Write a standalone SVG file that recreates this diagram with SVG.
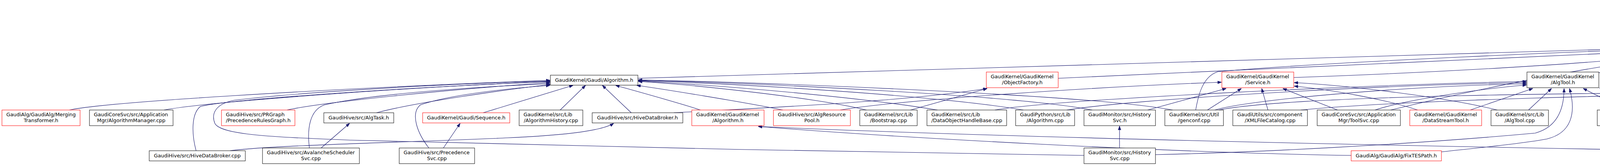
<svg xmlns="http://www.w3.org/2000/svg" width="6723" height="424" viewBox="0 0 6723 424">
<defs>
<marker id="ah" markerWidth="10" markerHeight="8" refX="10" refY="4" orient="auto" markerUnits="userSpaceOnUse"><path d="M0,0.5 L10,4 L0,7.5 z" fill="#191970" stroke="#191970" stroke-width="1"/></marker>
</defs>
<style>
.n rect{fill:#fff;stroke:#000;stroke-width:1}
.r rect{stroke:#f00}
.g rect{fill:#bfbfbf}
text{font-family:"DejaVu Sans",sans-serif;font-size:12.9px;fill:#000}
.c{text-anchor:middle}
.e path{fill:none;stroke:#191970;stroke-width:1.1;marker-end:url(#ah)}
</style>
<rect width="6723" height="424" fill="#fff"/>
<g id="edges" class="e">
<path d="M4486,95 L4517,47"/>
<path d="M5616,185 C5400,150 4900,85 4626,40"/>
<path d="M1633,200 L4387,118"/>
<path d="M3061,281 C3068,240 3080,195 3118,183 C3400,158 4100,128 4387,121"/>
<path d="M2709,200 L4387,124"/>
<path d="M3312,198 C3600,188 4100,165 4387,128"/>
<path d="M3560,281 C3750,235 4100,160 4387,131"/>
<path d="M4093,186 C4200,165 4300,145 4387,134"/>
<path d="M4267,192 L4410,136"/>
<path d="M4472,184 L4472,136"/>
<path d="M4636,184 L4531,136"/>
<path d="M4800,184 C4720,165 4620,145 4557,134"/>
<path d="M5020,184 C4900,160 4700,135 4557,128"/>
<path d="M5192,185 C5100,168 4800,135 4557,124"/>
<path d="M5408,185 C5300,162 4900,127 4557,121"/>
<path d="M5616,187 C5500,160 5000,126 4557,117"/>
<path d="M178,281 C260,262 800,228 1408,205"/>
<path d="M420,281 C520,262 1000,225 1408,208"/>
<path d="M735,281 C820,262 1150,228 1408,211"/>
<path d="M792,378 C786,330 792,282 830,268 C960,238 1250,220 1408,214"/>
<path d="M822,378 L895,315"/>
<path d="M964,288 C1060,262 1300,228 1408,216"/>
<path d="M1098,378 C1068,340 1050,290 1076,268 C1150,242 1300,226 1408,218"/>
<path d="M1135,378 L1178,315"/>
<path d="M502,385 C490,340 490,290 513,272 C600,250 1200,215 1408,209"/>
<path d="M589,385 C700,370 1100,362 1300,352 C1460,345 1545,332 1571,315"/>
<path d="M2775,397 C2300,390 1300,372 900,358 C700,350 565,345 550,315 C540,290 552,265 600,256 C800,232 1200,212 1408,207"/>
<path d="M1237,288 L1467,218"/>
<path d="M1434,281 L1499,218"/>
<path d="M1616,288 L1542,218"/>
<path d="M1793,281 C1750,266 1625,232 1576,218"/>
<path d="M2004,281 C1900,260 1700,228 1630,218"/>
<path d="M2218,281 C2100,252 1800,218 1634,208"/>
<path d="M2400,281 C2200,248 1850,218 1634,207"/>
<path d="M2620,281 C2400,244 1900,214 1634,206"/>
<path d="M2796,281 C2600,243 1950,213 1634,205"/>
<path d="M3002,281 C2800,243 2000,212 1634,204"/>
<path d="M2331,281 L2527,226"/>
<path d="M1725,288 C1900,278 2300,262 2527,226"/>
<path d="M2151,281 C2300,256 2800,222 3127,210"/>
<path d="M2938,281 L3139,226"/>
<path d="M3091,281 L3178,226"/>
<path d="M3246,281 L3230,226"/>
<path d="M3424,281 C3380,264 3320,240 3284,226"/>
<path d="M3629,281 C3550,254 3400,228 3313,220"/>
<path d="M3833,281 C3700,248 3450,218 3313,211"/>
<path d="M2547,281 C2700,254 3500,216 3908,208"/>
<path d="M2731,281 C2900,254 3500,218 3908,211"/>
<path d="M3110,281 C3200,254 3600,220 3908,214"/>
<path d="M3520,281 C3600,254 3800,226 3908,217"/>
<path d="M3764,281 L3924,226"/>
<path d="M3913,281 L3972,226"/>
<path d="M2958,395 C3200,390 3600,370 3930,340 C3985,325 4004,280 4004,226"/>
<path d="M3690,388 C3800,376 3900,366 3960,355 C4022,340 4036,290 4018,226"/>
<path d="M4162,281 L4053,226"/>
<path d="M4349,276 L4096,225"/>
<path d="M4600,281 C4500,254 4300,234 4095,225"/>
<path d="M4811,281 C4650,250 4300,231 4095,225"/>
<path d="M4989,281 C4800,246 4350,229 4095,225"/>
<path d="M5244,288 C5000,250 4400,229 4095,225"/>
<path d="M5338,385 C5400,360 5440,310 5411,272 C5350,240 4500,228 4095,225"/>
<path d="M5493,281 C5300,250 4600,226 4314,218"/>
<path d="M5669,281 C5500,248 4700,226 4314,218"/>
<path d="M5882,288 C5800,264 5680,240 5593,225"/>
<path d="M6149,288 C6000,258 5750,238 5593,225"/>
<path d="M6361,281 C6200,254 5800,238 5593,225"/>
<path d="M6555,281 C6300,240 5800,236 5593,225"/>
<path d="M3120,281 C3300,245 4000,236 4800,234 C5100,233 5300,230 5400,225"/>
<path d="M3330,281 C3700,245 4700,235 5010,225"/>
<path d="M3459,397 C3000,390 2300,352 1941,323"/>
<path d="M5164,397 C4500,390 2800,362 1941,323"/>
<path d="M2866,378 L2866,322"/>
<path d="M5292,385 L5292,315"/>
</g>
<g id="n_root" class="n g"><rect x="4439" y="5" width="186" height="41"/><text x="4450.2" y="21.5">GaudiPluginService</text><text x="4532" y="36.5" class="c">/Gaudi/PluginServiceV1.h</text></g>
<g id="n_ps" class="n"><rect x="4388" y="95" width="168" height="40"/><text x="4399.2" y="111.3">GaudiPluginService</text><text x="4472" y="126" class="c">/Gaudi/PluginService.h</text></g>
<g id="n_alg" class="n"><rect x="1409" y="192" width="224" height="25.5"/><text x="1521" y="208.5" class="c">GaudiKernel/Gaudi/Algorithm.h</text></g>
<g id="n_objf" class="n r"><rect x="2525" y="184" width="184" height="40"/><text x="2536.2" y="200.3">GaudiKernel/GaudiKernel</text><text x="2617" y="215" class="c">/ObjectFactory.h</text></g>
<g id="n_svc" class="n r"><rect x="3128" y="184" width="184" height="40"/><text x="3139.2" y="200.3">GaudiKernel/GaudiKernel</text><text x="3220" y="215" class="c">/Service.h</text></g>
<g id="n_algtool" class="n"><rect x="3909" y="184" width="184" height="40"/><text x="3920.2" y="200.3">GaudiKernel/GaudiKernel</text><text x="4001" y="215" class="c">/AlgTool.h</text></g>
<g id="n_apph" class="n"><rect x="4117" y="192" width="232" height="25.5"/><text x="4233" y="208.5" class="c">GaudiKernel/Gaudi/Application.h</text></g>
<g id="n_capi" class="n"><rect x="4373" y="184" width="198" height="40"/><text x="4384.2" y="200.3">GaudiPluginService</text><text x="4472" y="215" class="c">/src/capi_pluginservice.cpp</text></g>
<g id="n_v1cpp" class="n"><rect x="4595" y="184" width="181" height="40"/><text x="4606.2" y="200.3">GaudiPluginService</text><text x="4685.5" y="215" class="c">/src/PluginServiceV1.cpp</text></g>
<g id="n_v2cpp" class="n"><rect x="4800" y="184" width="181" height="40"/><text x="4811.2" y="200.3">GaudiPluginService</text><text x="4890.5" y="215" class="c">/src/PluginServiceV2.cpp</text></g>
<g id="n_ifc" class="n r"><rect x="5005" y="184" width="163" height="40"/><text x="5016.2" y="200.3">GaudiUtils/GaudiUtils</text><text x="5086.5" y="215" class="c">/IFileCatalog.h</text></g>
<g id="n_mfc" class="n"><rect x="5192" y="184" width="191" height="40"/><text x="5203.2" y="200.3">GaudiUtils/src/component</text><text x="5287.5" y="215" class="c">/MultiFileCatalog.cpp</text></g>
<g id="n_aud" class="n r"><rect x="5408" y="184" width="184" height="40"/><text x="5419.2" y="200.3">GaudiKernel/GaudiKernel</text><text x="5500" y="215" class="c">/Auditor.h</text></g>
<g id="n_listc" class="n"><rect x="5616" y="184" width="176" height="40"/><text x="5627.2" y="200.3">GaudiPluginService</text><text x="5704" y="215" class="c">/src/listcomponents.cpp</text></g>
<g id="n_merge" class="n r"><rect x="5" y="281" width="200" height="40"/><text x="16.2" y="297.3">GaudiAlg/GaudiAlg/Merging</text><text x="105" y="312" class="c">Transformer.h</text></g>
<g id="n_algmgr" class="n"><rect x="229" y="281" width="214" height="40"/><text x="240.2" y="297.3">GaudiCoreSvc/src/Application</text><text x="336" y="312" class="c">Mgr/AlgorithmManager.cpp</text></g>
<g id="n_prg" class="n r"><rect x="567" y="281" width="188" height="40"/><text x="578.2" y="297.3">GaudiHive/src/PRGraph</text><text x="661" y="312" class="c">/PrecedenceRulesGraph.h</text></g>
<g id="n_algtask" class="n"><rect x="829" y="288" width="179" height="26"/><text x="918.5" y="304.5" class="c">GaudiHive/src/AlgTask.h</text></g>
<g id="n_seq" class="n r"><rect x="1082" y="288" width="223" height="26"/><text x="1193.5" y="304.5" class="c">GaudiKernel/Gaudi/Sequence.h</text></g>
<g id="n_alghist" class="n"><rect x="1329" y="281" width="163" height="40"/><text x="1340.2" y="297.3">GaudiKernel/src/Lib</text><text x="1410.5" y="312" class="c">/AlgorithmHistory.cpp</text></g>
<g id="n_hdbh" class="n"><rect x="1516" y="288" width="232" height="26"/><text x="1632" y="304.5" class="c">GaudiHive/src/HiveDataBroker.h</text></g>
<g id="n_gkalg" class="n r"><rect x="1771" y="281" width="185" height="40"/><text x="1782.2" y="297.3">GaudiKernel/GaudiKernel</text><text x="1863.5" y="312" class="c">/Algorithm.h</text></g>
<g id="n_arp" class="n r"><rect x="1980" y="281" width="197" height="40"/><text x="1991.2" y="297.3">GaudiHive/src/AlgResource</text><text x="2078.5" y="312" class="c">Pool.h</text></g>
<g id="n_boot" class="n"><rect x="2201" y="281" width="147" height="40"/><text x="2212.2" y="297.3">GaudiKernel/src/Lib</text><text x="2274.5" y="312" class="c">/Bootstrap.cpp</text></g>
<g id="n_dohb" class="n"><rect x="2373" y="281" width="204" height="40"/><text x="2384.2" y="297.3">GaudiKernel/src/Lib</text><text x="2475" y="312" class="c">/DataObjectHandleBase.cpp</text></g>
<g id="n_pyalg" class="n"><rect x="2600" y="281" width="151" height="40"/><text x="2611.2" y="297.3">GaudiPython/src/Lib</text><text x="2675.5" y="312" class="c">/Algorithm.cpp</text></g>
<g id="n_histh" class="n"><rect x="2775" y="281" width="183" height="40"/><text x="2786.2" y="297.3">GaudiMonitor/src/History</text><text x="2866.5" y="312" class="c">Svc.h</text></g>
<g id="n_genconf" class="n"><rect x="2982" y="281" width="150" height="40"/><text x="2993.2" y="297.3">GaudiKernel/src/Util</text><text x="3057" y="312" class="c">/genconf.cpp</text></g>
<g id="n_xmlfc" class="n"><rect x="3156" y="281" width="191" height="40"/><text x="3167.2" y="297.3">GaudiUtils/src/component</text><text x="3251.5" y="312" class="c">/XMLFileCatalog.cpp</text></g>
<g id="n_toolsvc" class="n"><rect x="3372" y="281" width="213" height="40"/><text x="3383.2" y="297.3">GaudiCoreSvc/src/Application</text><text x="3478.5" y="312" class="c">Mgr/ToolSvc.cpp</text></g>
<g id="n_dst" class="n r"><rect x="3609" y="281" width="184" height="40"/><text x="3620.2" y="297.3">GaudiKernel/GaudiKernel</text><text x="3701" y="312" class="c">/DataStreamTool.h</text></g>
<g id="n_algtoolcpp" class="n"><rect x="3817" y="281" width="147" height="40"/><text x="3828.2" y="297.3">GaudiKernel/src/Lib</text><text x="3890.5" y="312" class="c">/AlgTool.cpp</text></g>
<g id="n_pst" class="n"><rect x="4089" y="281" width="235" height="40"/><text x="4100.2" y="297.3">GaudiCommonSvc/src</text><text x="4206.5" y="312" class="c">/DataSvc/PartitionSwitchTool.cpp</text></g>
<g id="n_dsfet" class="n"><rect x="4348" y="274" width="205" height="54"/><text x="4359.2" y="290">GaudiCommonSvc/src</text><text x="4359.2" y="304.5">/PersistencySvc/DataSvcFile</text><text x="4450.5" y="319" class="c">EntriesTool.cpp</text></g>
<g id="n_dod" class="n r"><rect x="4577" y="281" width="192" height="40"/><text x="4588.2" y="297.3">GaudiCoreSvc/src/Incident</text><text x="4673" y="312" class="c">Svc/DODBasicMapper.h</text></g>
<g id="n_ath" class="n"><rect x="4793" y="281" width="147" height="40"/><text x="4804.2" y="297.3">GaudiKernel/src/Lib</text><text x="4866.5" y="312" class="c">/AlgToolHistory.cpp</text></g>
<g id="n_frt" class="n r"><rect x="4964" y="281" width="191" height="40"/><text x="4975.2" y="297.3">GaudiUtils/src/component</text><text x="5059.5" y="312" class="c">/FileReadTool.h</text></g>
<g id="n_gtool" class="n r"><rect x="5180" y="288" width="224" height="26"/><text x="5292" y="304.5" class="c">GaudiAlg/GaudiAlg/GaudiTool.h</text></g>
<g id="n_gmain" class="n"><rect x="5479" y="281" width="147" height="40"/><text x="5490.2" y="297.3">GaudiKernel/src/Lib</text><text x="5552.5" y="312" class="c">/GaudiMain.cpp</text></g>
<g id="n_appcpp" class="n"><rect x="5649" y="281" width="147" height="40"/><text x="5660.2" y="297.3">GaudiKernel/src/Lib</text><text x="5722.5" y="312" class="c">/Application.cpp</text></g>
<g id="n_aca" class="n r"><rect x="5819" y="288" width="244" height="26"/><text x="5941" y="304.5" class="c">GaudiAud/src/AlgContextAuditor.h</text></g>
<g id="n_ca" class="n r"><rect x="6086" y="288" width="230" height="26"/><text x="6201" y="304.5" class="c">GaudiAud/src/CommonAuditor.h</text></g>
<g id="n_audsvc" class="n"><rect x="6340" y="281" width="165" height="40"/><text x="6351.2" y="297.3">GaudiCommonSvc/src</text><text x="6422.5" y="312" class="c">/AuditorSvc.cpp</text></g>
<g id="n_timing" class="n"><rect x="6530" y="281" width="189" height="40"/><text x="6541.2" y="297.3">GaudiAlg/src/components</text><text x="6624.5" y="312" class="c">/TimingAuditor.cpp</text></g>
<g id="n_hdbcpp" class="n"><rect x="382" y="385" width="246" height="26"/><text x="505" y="401.5" class="c">GaudiHive/src/HiveDataBroker.cpp</text></g>
<g id="n_avs" class="n"><rect x="672" y="378" width="248" height="40"/><text x="683.2" y="394.3">GaudiHive/src/AvalancheScheduler</text><text x="796" y="409" class="c">Svc.cpp</text></g>
<g id="n_psvc" class="n"><rect x="1022" y="378" width="193" height="40"/><text x="1033.2" y="394.3">GaudiHive/src/Precedence</text><text x="1118.5" y="409" class="c">Svc.cpp</text></g>
<g id="n_histcpp" class="n"><rect x="2775" y="378" width="183" height="40"/><text x="2786.2" y="394.3">GaudiMonitor/src/History</text><text x="2866.5" y="409" class="c">Svc.cpp</text></g>
<g id="n_fixtes" class="n r"><rect x="3459" y="385" width="231" height="26"/><text x="3574.5" y="401.5" class="c">GaudiAlg/GaudiAlg/FixTESPath.h</text></g>
<g id="n_gcommon" class="n r"><rect x="5164" y="385" width="256" height="26"/><text x="5292" y="401.5" class="c">GaudiAlg/src/lib/GaudiCommon.icpp</text></g>
</svg>
